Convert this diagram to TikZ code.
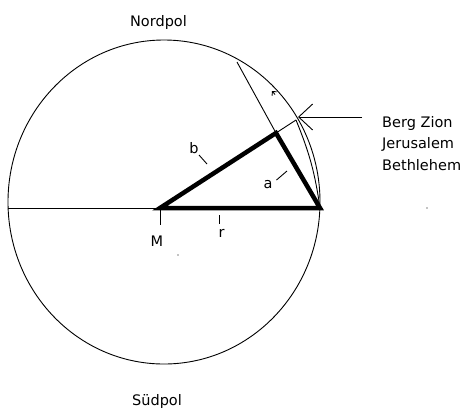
\documentclass[tikz,border=0pt]{standalone}
\usepackage{fontspec}
\setmainfont{DejaVu Sans}
\usetikzlibrary{arrows, arrows.meta, positioning}
\tikzstyle{fine} = [line width=0.9pt]
\tikzstyle{side} = [line width=4.5pt, line join=miter]
\tikzstyle{tag} = [inner sep=0pt, font=\fontsize{14.5}{17}\selectfont]
\tikzstyle{pointer} = [fine, -{Straight Barb[length=14pt, width=26pt]}]
\tikzstyle{nub} = [fine, -{Straight Barb[length=3pt, width=6pt]}]

\begin{document}
\begin{tikzpicture}[x=1pt, y=-1pt]
        \useasboundingbox (0,0) rectangle (468,408);
        % points of the figure
        \coordinate (C) at (164,202);
        \coordinate (W) at (8,208);
        \coordinate (M) at (160,208);
        \coordinate (E) at (320,208);
        \coordinate (P) at (276,133);
        \coordinate (T) at (237,62);
        \coordinate (R) at (296,120);
        \coordinate (hit) at (298,117);
        \coordinate (tail) at (362,117);
        \coordinate (up) at (272,91);
        \coordinate (upfoot) at (275,94.5);
        % globe
        \draw[fine] (C) ellipse [x radius=156pt, y radius=162pt];
        \draw[fine] (W) -- (M);
        \draw[fine] (T) -- (P) -- (R);
        \draw[fine] (R) to[bend left=7] (E);
        \draw[nub] (upfoot) -- (up);
        \draw[side] (M) -- (P) -- (E) -- cycle;
        % labels
        \node[tag, anchor=base] (nord) at (158.5,26) {Nordpol};
        \node[tag, anchor=base] (sued) at (157,405) {Südpol};
        \node[tag, anchor=base] (m) at (157,246) {M};
        \node[tag, anchor=base] (r) at (221.5,237) {r};
        \node[tag, anchor=base] (b) at (194,153) {b};
        \node[tag, anchor=base] (a) at (268,188) {a};
        \node[tag, anchor=base west] (zion) at (382,127) {Berg Zion};
        \node[tag, anchor=base west] (jeru) at (382,148.5) {Jerusalem};
        \node[tag, anchor=base west] (beth) at (382,170) {Bethlehem};
        % ticks
        \draw[fine] (M) -- (160,225);
        \draw[fine] (219,215) -- (219,224);
        \draw[fine] (199,155) -- (207,164);
        \draw[fine] (276.5,180) -- (287,171);
        \draw[pointer] (tail) -- (hit);
        \fill (427,208) circle [radius=0.6pt];
        \fill (178,255) circle [radius=0.6pt];
    \end{tikzpicture}
\end{document}
